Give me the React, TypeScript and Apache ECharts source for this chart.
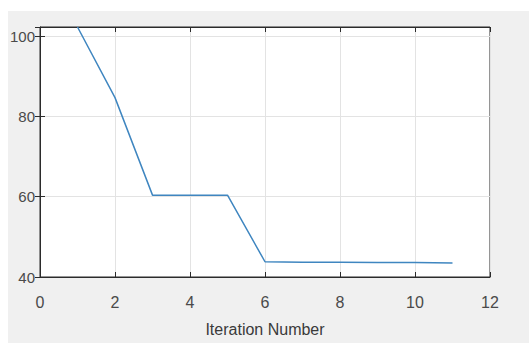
import React, { useEffect, useRef } from "react";
import * as echarts from "echarts";

const iterations = [1, 2, 3, 4, 5, 6, 7, 8, 9, 10, 11];
const values = [102.3, 84.7, 60.4, 60.4, 60.4, 43.8, 43.7, 43.7, 43.6, 43.6, 43.5];
const xTicks = [0, 2, 4, 6, 8, 10, 12];
const yTicks = [40, 60, 80, 100];
const xTitle = "Iteration Number";

export default function App() {
  const ref = useRef<HTMLDivElement>(null);
  useEffect(() => {
    if (!ref.current) return;
    const chart = echarts.init(ref.current, undefined, { renderer: "svg" });
    const data = iterations.map((x, i) => [x, values[i]]);
    const yFmt = (v: number) => (yTicks.includes(Math.round(v * 1000) / 1000) ? String(v) : "");
    const xFmt = (v: number) => (xTicks.includes(v) ? String(v) : "");
    const font = "Liberation Sans, Arial, sans-serif";
    chart.setOption({
      animation: false,
      backgroundColor: "#ffffff",
      graphic: [
        {
          type: "rect",
          z: -10,
          silent: true,
          shape: { x: 8, y: 11, width: 521, height: 332 },
          style: { fill: "#f0f0f0" },
        },
      ],
      grid: {
        left: 40,
        right: 39,
        top: 27,
        bottom: 66,
        show: true,
        backgroundColor: "#ffffff",
        borderColor: "#2b2b2b",
        borderWidth: 1,
      },
      xAxis: [
        {
          type: "value",
          min: 0,
          max: 12,
          interval: 2,
          name: xTitle,
          nameLocation: "middle",
          nameGap: 44,
          nameTextStyle: {
            fontFamily: font,
            fontSize: 16,
            color: "#3a3a3a",
          },
          axisLine: { show: true, lineStyle: { color: "#2b2b2b", width: 1 } },
          axisTick: { show: true, inside: true, length: 5, lineStyle: { color: "#2b2b2b" } },
          axisLabel: {
            margin: 17,
            formatter: xFmt,
            fontFamily: font,
            fontSize: 16,
            color: "#4a4a4a",
          },
          splitLine: { show: true, lineStyle: { color: "#e3e3e3", width: 1 } },
        },
        {
          type: "value",
          position: "top",
          min: 0,
          max: 12,
          interval: 2,
          axisLine: { show: true, lineStyle: { color: "#2b2b2b", width: 1 } },
          axisTick: { show: true, inside: true, length: 5, lineStyle: { color: "#2b2b2b" } },
          axisLabel: { show: false },
          splitLine: { show: false },
        },
      ],
      yAxis: [
        {
          type: "value",
          min: 40,
          max: 102.3,
          interval: 20,
          axisLine: { show: true, lineStyle: { color: "#777777", width: 1 } },
          axisTick: { show: true, inside: true, length: 5, lineStyle: { color: "#2b2b2b" } },
          axisLabel: {
            margin: 5,
            formatter: yFmt,
            fontFamily: font,
            fontSize: 15,
            color: "#4a4a4a",
            padding: [7, 0, 0, 0],
          },
          splitLine: { show: true, lineStyle: { color: "#e3e3e3", width: 1 } },
        },
        {
          type: "value",
          position: "right",
          min: 40,
          max: 102.3,
          interval: 20,
          axisLine: { show: true, lineStyle: { color: "#2b2b2b", width: 1 } },
          axisTick: { show: true, inside: true, length: 5, lineStyle: { color: "#2b2b2b" } },
          axisLabel: { show: false },
          splitLine: { show: false },
        },
      ],
      series: [
        {
          type: "line",
          data,
          symbol: "none",
          lineStyle: { color: "#3f86c0", width: 1.5 },
          clip: true,
        },
      ],
    });
    return () => chart.dispose();
  }, []);
  return (
    <div
      ref={ref}
      style={{ position: "fixed", left: 0, top: 0, width: 529, height: 343 }}
    />
  );
}
